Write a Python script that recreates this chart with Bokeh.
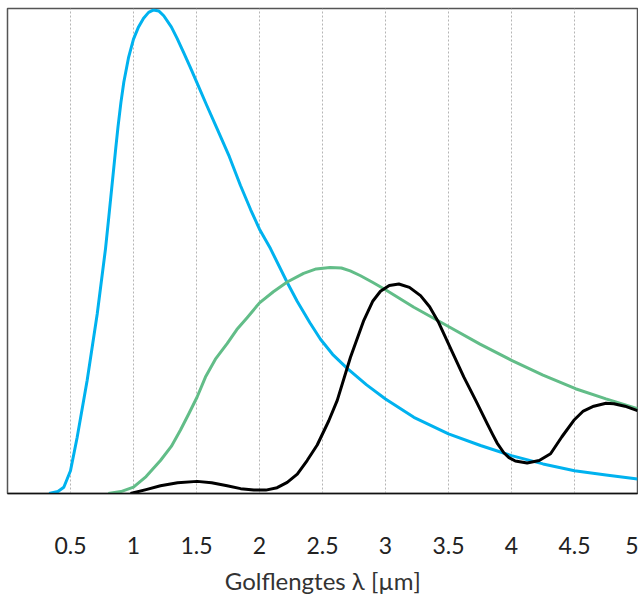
from bokeh.plotting import figure
from bokeh.models import Range1d, FixedTicker
from bokeh.embed import file_html
from bokeh.resources import INLINE

# wavelength (µm) and relative intensity
blue_x = [0.33, 0.40, 0.447, 0.5, 0.553, 0.632, 0.712, 0.778, 0.80, 0.844, 0.86, 0.877, 0.90, 0.923, 0.96, 1.0,
          1.04, 1.08, 1.12, 1.16, 1.2, 1.24, 1.3, 1.347, 1.40, 1.45, 1.505, 1.58, 1.664, 1.76, 1.849, 1.93, 2.0,
          2.087, 2.22, 2.30, 2.40, 2.484, 2.58, 2.696, 2.85, 3.0, 3.225, 3.5, 3.754, 4.0, 4.25, 4.5, 4.75, 5.0]
blue_y = [0.0, 0.004, 0.013, 0.047, 0.116, 0.233, 0.370, 0.505, 0.56, 0.673, 0.714, 0.756, 0.806, 0.848, 0.898, 0.937,
          0.962, 0.98, 0.992, 0.997, 0.995, 0.985, 0.962, 0.938, 0.908, 0.879, 0.846, 0.801, 0.752, 0.695, 0.635, 0.585,
          0.545, 0.505, 0.435, 0.396, 0.352, 0.318, 0.287, 0.258, 0.224, 0.195, 0.157, 0.123, 0.099, 0.078, 0.061,
          0.047, 0.038, 0.030]

green_x = [0.80, 0.9, 1.0, 1.1, 1.214, 1.30, 1.373, 1.44, 1.505, 1.571, 1.65, 1.743, 1.82, 1.9, 2.0, 2.11, 2.22,
           2.35, 2.45, 2.56, 2.65, 2.72, 2.802, 2.9, 3.0, 3.225, 3.489, 3.75, 4.005, 4.25, 4.508, 4.75, 5.0]
green_y = [0.0, 0.004, 0.013, 0.035, 0.068, 0.097, 0.131, 0.165, 0.199, 0.24, 0.277, 0.309, 0.338, 0.362, 0.393,
           0.416, 0.436, 0.454, 0.463, 0.466, 0.465, 0.459, 0.449, 0.435, 0.420, 0.384, 0.346, 0.308, 0.274, 0.244,
           0.216, 0.195, 0.175]

black_x = [0.976, 1.1, 1.214, 1.35, 1.505, 1.62, 1.743, 1.85, 1.955, 2.05, 2.14, 2.22, 2.3, 2.378, 2.458, 2.55,
           2.617, 2.722, 2.828, 2.90, 2.96, 3.03, 3.106, 3.19, 3.278, 3.35, 3.423, 3.52, 3.622, 3.72, 3.807, 3.85,
           3.886, 3.939, 3.98, 4.03, 4.124, 4.22, 4.31, 4.4, 4.495, 4.57, 4.653, 4.75, 4.812, 4.9, 5.0]
black_y = [0.0, 0.008, 0.016, 0.022, 0.025, 0.022, 0.016, 0.010, 0.007, 0.007, 0.012, 0.023, 0.040, 0.068, 0.10,
           0.15, 0.192, 0.281, 0.357, 0.397, 0.417, 0.429, 0.432, 0.425, 0.408, 0.385, 0.352, 0.297, 0.240, 0.19,
           0.144, 0.122, 0.104, 0.084, 0.074, 0.067, 0.063, 0.068, 0.082, 0.117, 0.151, 0.170, 0.180, 0.186, 0.185,
           0.180, 0.171]

tick_values = [0.5, 1, 1.5, 2, 2.5, 3, 3.5, 4, 4.5, 5]
tick_labels = ["0.5", "1", "1.5", "2", "2.5", "3", "3.5", "4", "4.5", "5"]
axis_title = "Golflengtes λ [µm]"

p = figure(frame_width=630, frame_height=485, output_backend="svg", toolbar_location=None,
           x_range=Range1d(0, 5), y_range=Range1d(0, 1),
           min_border_left=7, min_border_right=1, min_border_top=8, min_border_bottom=0)

p.line(blue_x, blue_y, line_color="#00b2ef", line_width=3, line_join="round")
p.line(green_x, green_y, line_color="#62bd88", line_width=3, line_join="round")
p.line(black_x, black_y, line_color="#000000", line_width=3, line_join="round")

p.yaxis.visible = False
p.ygrid.visible = False

p.xaxis.ticker = FixedTicker(ticks=tick_values)
p.xaxis.major_label_overrides = {v: l for v, l in zip(tick_values, tick_labels)}
p.xaxis.major_tick_line_color = None
p.xaxis.minor_tick_line_color = None
p.xaxis.axis_line_color = "#111111"
p.xaxis.axis_line_width = 1.5
p.xaxis.major_label_standoff = 37
p.xaxis.major_label_text_font = "Lato"
p.xaxis.major_label_text_font_size = "23px"
p.xaxis.major_label_text_color = "#222222"
p.xaxis.axis_label = axis_title
p.xaxis.axis_label_text_font = "Lato"
p.xaxis.axis_label_text_font_style = "normal"
p.xaxis.axis_label_text_font_size = "24px"
p.xaxis.axis_label_text_color = "#333333"
p.xaxis.axis_label_standoff = 9

p.xgrid.ticker = FixedTicker(ticks=tick_values)
p.xgrid.grid_line_color = "#b5b5b5"
p.xgrid.grid_line_dash = "2 2"
p.xgrid.grid_line_width = 1

p.outline_line_color = "#555555"
p.outline_line_width = 1.5
p.background_fill_color = "white"
p.border_fill_color = "white"

open("out.html", "w").write(file_html(p, INLINE))
